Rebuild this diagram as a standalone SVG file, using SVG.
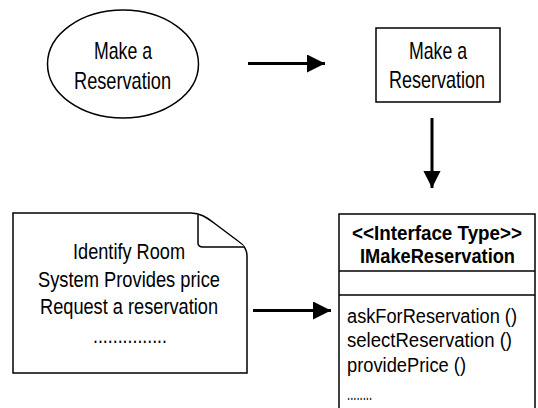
<svg xmlns="http://www.w3.org/2000/svg" width="538" height="408" viewBox="0 0 538 408">
<style>
.shape{fill:#fff;stroke:#000;stroke-width:1.5}
.t{font-family:"Liberation Sans",Arial,Helvetica,sans-serif;fill:#000}
.lg{font-size:24px;text-anchor:middle}
.md{font-size:22.5px;text-anchor:middle}
.sm{font-size:20px}
.b{font-weight:bold;text-anchor:middle}
.conn{stroke:#000;stroke-width:3;fill:none}
</style>
<defs>
<marker id="ah" viewBox="0 0 10 10" refX="10" refY="5" markerWidth="6.7" markerHeight="6" orient="auto" markerUnits="strokeWidth">
<path d="M0,0 L10,5 L0,10 Z" fill="#000"/>
</marker>
<marker id="ahv" viewBox="0 0 10 10" refX="10" refY="5" markerWidth="8.3" markerHeight="5.7" orient="auto" markerUnits="strokeWidth">
<path d="M0,0 L10,5 L0,10 Z" fill="#000"/>
</marker>
</defs>
<rect width="538" height="408" fill="#fff"/>
<g id="usecase">
<ellipse class="shape" cx="123" cy="64" rx="75.5" ry="54"/>
<text class="t lg" x="123" y="59" textLength="58" lengthAdjust="spacingAndGlyphs">Make a</text>
<text class="t lg" x="122.5" y="89" textLength="97" lengthAdjust="spacingAndGlyphs">Reservation</text>
</g>
<g id="activity">
<rect class="shape" x="376" y="28" width="124" height="74"/>
<text class="t lg" x="438" y="58.5" textLength="58" lengthAdjust="spacingAndGlyphs">Make a</text>
<text class="t lg" x="437" y="88" textLength="96" lengthAdjust="spacingAndGlyphs">Reservation</text>
</g>
<g id="note">
<path class="shape" d="M13,213 H191 C200,213 206,217 214,223 L238,241 C244,245 247,250 247,256 V373 H13 Z"/>
<path class="shape" fill="none" d="M198,215 V243 Q198,247 203,247 H245"/>
<text class="t md" x="129" y="259" textLength="112" lengthAdjust="spacingAndGlyphs">Identify Room</text>
<text class="t md" x="129" y="287" textLength="182" lengthAdjust="spacingAndGlyphs">System Provides price</text>
<text class="t md" x="129" y="314" textLength="178" lengthAdjust="spacingAndGlyphs">Request a reservation</text>
<text class="t md" x="130" y="343" textLength="74" lengthAdjust="spacingAndGlyphs">...............</text>
</g>
<g id="interface">
<rect class="shape" x="339" y="214" width="196" height="200"/>
<line class="shape" x1="339" y1="271" x2="535" y2="271"/>
<line class="shape" x1="339" y1="295" x2="535" y2="295"/>
<text class="t sm b" x="437" y="240" textLength="170" lengthAdjust="spacingAndGlyphs">&lt;&lt;Interface Type&gt;&gt;</text>
<text class="t sm b" x="437.5" y="263" textLength="155" lengthAdjust="spacingAndGlyphs">IMakeReservation</text>
<text class="t sm" x="347" y="323" textLength="170" lengthAdjust="spacingAndGlyphs">askForReservation ()</text>
<text class="t sm" x="347" y="347" textLength="165" lengthAdjust="spacingAndGlyphs">selectReservation ()</text>
<text class="t sm" x="347" y="372" textLength="119" lengthAdjust="spacingAndGlyphs">providePrice ()</text>
<text class="t sm" x="347" y="400" textLength="25" lengthAdjust="spacingAndGlyphs">........</text>
</g>
<g id="connectors">
<line class="conn" x1="248" y1="63.5" x2="325" y2="63.5" marker-end="url(#ah)"/>
<line class="conn" x1="432" y1="118" x2="432" y2="188" marker-end="url(#ahv)"/>
<line class="conn" x1="253" y1="310.5" x2="331" y2="310.5" marker-end="url(#ah)"/>
</g>
</svg>
